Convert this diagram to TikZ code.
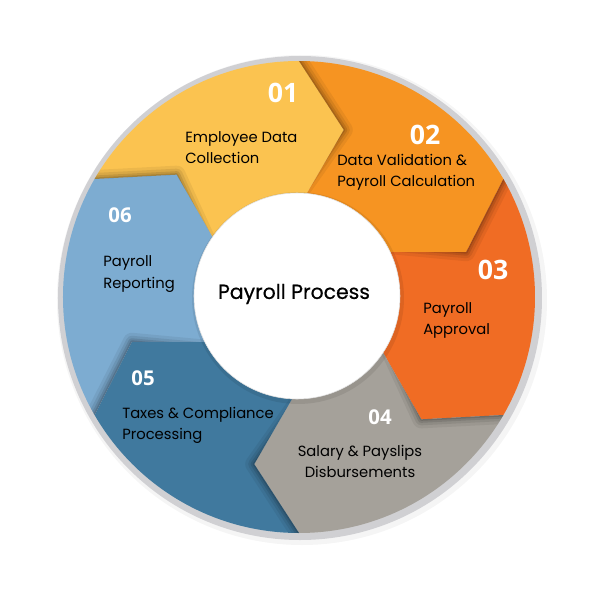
\documentclass[tikz,border=0pt]{standalone}
\usepackage{fontspec}
\setmainfont{Poppins}
\newfontfamily\numfont{Open Sans}
\newfontfamily\titlefont[FakeBold=0.5]{Poppins}
\definecolor{segyellow}{RGB}{251,195,80}
\definecolor{segorange}{RGB}{246,148,34}
\definecolor{segred}{RGB}{240,108,36}
\definecolor{seggrey}{RGB}{165,161,154}
\definecolor{segdark}{RGB}{64,121,158}
\definecolor{seglight}{RGB}{125,172,209}
\definecolor{rimgrey}{RGB}{208,208,211}
% one piece of the ring, #1 = angle of its back edge
\def\segpath#1{({#1}:90) -- ({#1-15}:173) -- ({#1}:236) -- ({#1}:270) arc[start angle={#1}, end angle={#1-60}, radius=270] -- ({#1-60}:236) -- ({#1-75}:173) -- ({#1-60}:90) -- cycle}
% soft shadow that the piece before throws on the piece starting at #1
\def\segshadow#1{\begin{scope}\clip \segpath{#1};
\foreach \w/\o in {18/0.06, 12/0.08, 7/0.1, 3/0.12}
\draw[line width=\w*0.25mm, black, opacity=\o, line join=round] ({#1}:236) -- ({#1-15}:173) -- ({#1}:104);
\end{scope}}

\begin{document}
\begin{tikzpicture}[x=0.25mm, y=0.25mm,
  bignum/.style={text=white, inner sep=0, font=\numfont\bfseries\fontsize{19}{19}\selectfont},
  smallnum/.style={text=white, inner sep=0, font=\numfont\bfseries\fontsize{14.5}{14.5}\selectfont},
  lbl/.style={text=black, inner sep=0, align=left, font=\fontsize{10.5}{15}\selectfont}]
	%%%%% START %%%%%
	\useasboundingbox[fill=white] (-299, -303) rectangle (301, 297);
	
	\fill[black, opacity=0.04] (3, -3) circle (245);
	\fill[rimgrey] (1, -1) circle (242);
	\begin{scope}
		\clip (0, 0) circle (236);
		\fill[segyellow] \segpath{150};
		\fill[segorange] \segpath{90};
		\fill[segred] \segpath{30};
		\fill[seggrey] \segpath{-30};
		\fill[segdark] \segpath{-90};
		\fill[seglight] \segpath{-150};
		\segshadow{150}
		\segshadow{90}
		\segshadow{30}
		\segshadow{-30}
		\segshadow{-90}
		\segshadow{-150}
	\end{scope}
	
	\fill[black, opacity=0.08] (-1, -1) circle (106);
	\draw[fill=white, draw=black!12] (-2, 1) circle (103);
	\node[font=\titlefont\fontsize{14.5}{14.5}\selectfont, inner sep=0] (title) at (-5, 3) {Payroll Process};
	
	\node[bignum] (n01) at (-16, 204) {01};
	\node[lbl, anchor=west] (t01) at (-114, 149) {Employee Data\\Collection};
	
	\node[bignum] (n02) at (126, 162) {02};
	\node[lbl, anchor=west] (t02) at (38, 125) {Data Validation \&\\Payroll Calculation};
	
	\node[bignum] (n03) at (194, 27) {03};
	\node[lbl, anchor=west] (t03) at (124, -23) {Payroll\\Approval};
	
	\node[smallnum] (n04) at (81, -120) {04};
	\node[lbl, align=center] (t04) at (61, -164) {Salary \& Payslips\\Disbursements};
	
	\node[smallnum] (n05) at (-156, -81) {05};
	\node[lbl, anchor=west] (t05) at (-177, -128) {Taxes \& Compliance\\Processing};
	
	\node[smallnum] (n06) at (-179, 82) {06};
	\node[lbl, anchor=west] (t06) at (-196, 23) {Payroll\\Reporting};
	%%%%% END %%%%%
\end{tikzpicture}
\end{document}
